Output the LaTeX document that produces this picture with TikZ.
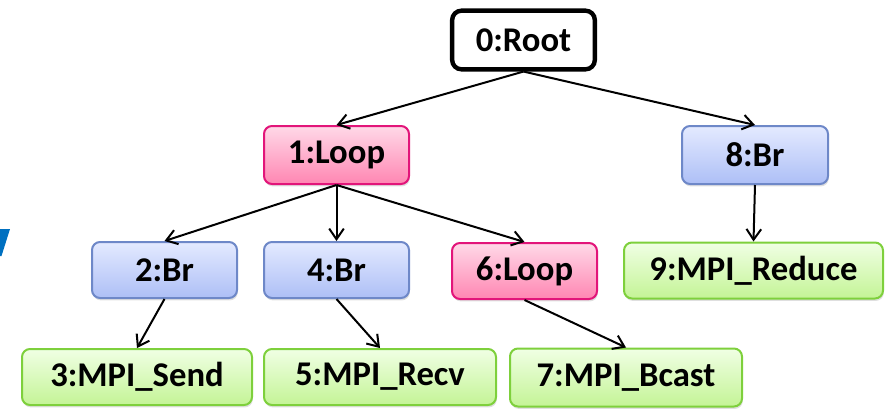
\documentclass[tikz,border=0pt]{standalone}
\usepackage{fontspec}
\setmainfont{Carlito}
\usetikzlibrary{arrows.meta,shadows}
\definecolor{loopB}{HTML}{E2157A}
\definecolor{loopT}{HTML}{FFD9E8}
\definecolor{loopD}{HTML}{FF86B2}
\definecolor{brB}{HTML}{6E88C8}
\definecolor{brT}{HTML}{E4EAFF}
\definecolor{brD}{HTML}{ADBFF6}
\definecolor{mpiB}{HTML}{7ED03C}
\definecolor{mpiT}{HTML}{F0FFE4}
\definecolor{mpiD}{HTML}{C4F496}
\definecolor{accent}{HTML}{0070C0}
\tikzset{
  box/.style={rounded corners=6pt, line width=1.5pt, minimum height=42pt,
    inner sep=0pt, font=\fontsize{26}{30}\selectfont\bfseries,
    drop shadow={shadow xshift=0.6pt, shadow yshift=-1.8pt, opacity=0.25}},
  rootbox/.style={rounded corners=7pt, line width=3.3pt, draw=black, fill=white,
    minimum width=107pt, minimum height=44pt, inner sep=0pt,
    font=\fontsize{26}{30}\selectfont\bfseries},
  loopbox/.style={box, draw=loopB, top color=loopT, bottom color=loopD},
  brbox/.style={box, draw=brB, top color=brT, bottom color=brD},
  mpibox/.style={box, draw=mpiB, top color=mpiT, bottom color=mpiD},
  edge/.style={line width=1.5pt, -{Straight Barb[length=8pt,width=11pt,line width=1.5pt]}}
}
\begin{document}
\begin{tikzpicture}[x=0.75pt,y=-0.75pt]
\useasboundingbox (0,0) rectangle (886,408);
% partial accent shape at the left edge
\fill[accent] (0,229) -- (10,229) -- (1.5,256) -- (0,256) -- cycle;

\node[rootbox] (root) at (523.5,40) {0:Root};
\node[loopbox, minimum width=108.75pt, minimum height=43.5pt] (n1) at (336.5,155) {1:Loop};
\node[brbox, minimum width=109.5pt, minimum height=43.5pt] (n8) at (755,155) {8:Br};
\node[brbox, minimum width=108.75pt] (n2) at (164.5,270) {2:Br};
\node[brbox, minimum width=108.75pt] (n4) at (336.5,270) {4:Br};
\node[loopbox, minimum width=108.75pt] (n6) at (524.5,271) {6:Loop};
\node[mpibox, minimum width=194.25pt] (n9) at (753.5,270.5) {9:MPI\_Reduce};
\node[mpibox, minimum width=172.5pt] (n3) at (137,377) {3:MPI\_Send};
\node[mpibox, minimum width=174pt] (n5) at (380,377) {5:MPI\_Recv};
\node[mpibox, minimum width=174pt, minimum height=43.5pt] (n7) at (626,377.5) {7:MPI\_Bcast};

\draw[edge] (root.south) -- (n1.north);
\draw[edge] (root.south) -- (n8.north);
\draw[edge] (n1.south) -- (n2.north);
\draw[edge] (n1.south) -- (n4.north);
\draw[edge] (n1.south) -- (n6.north);
\draw[edge] (n2.south) -- (n3.north);
\draw[edge] (n4.south) -- (n5.north);
\draw[edge] (n6.south) -- (n7.north);
\draw[edge] (n8.south) -- (n9.north);
\end{tikzpicture}
\end{document}
